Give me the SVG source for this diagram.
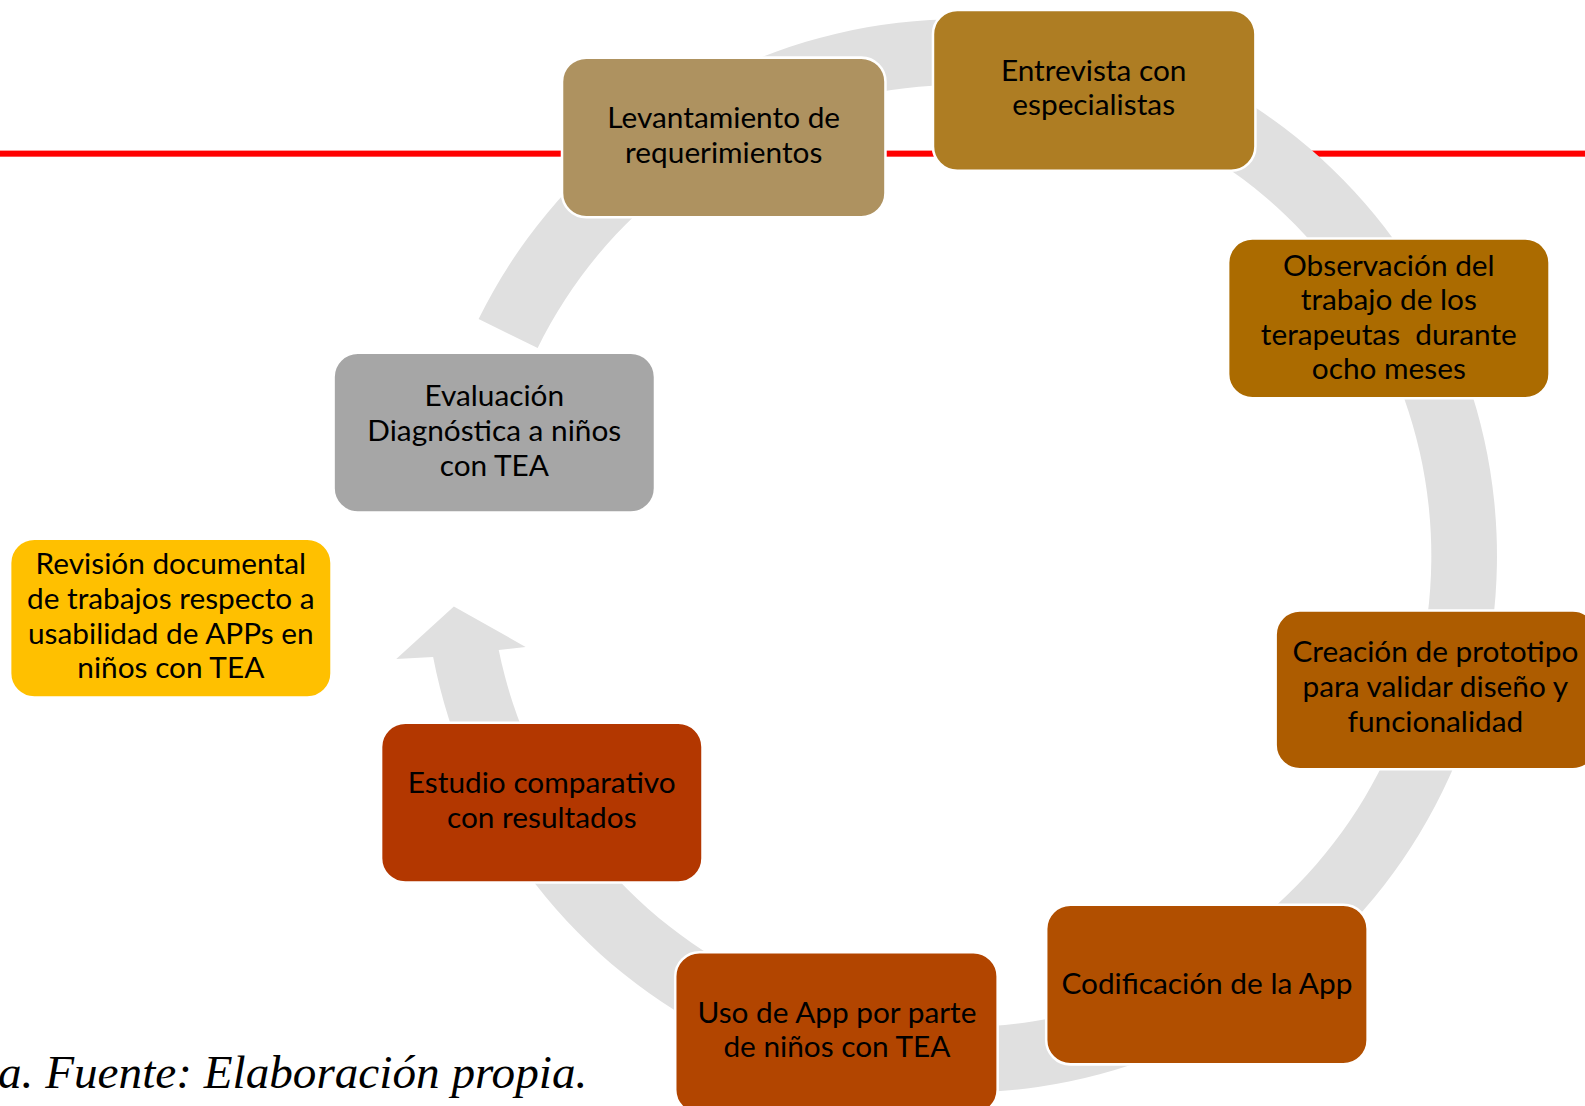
<svg xmlns="http://www.w3.org/2000/svg" width="1585" height="1106" viewBox="0 0 1585 1106">
<style>
.box{stroke:#ffffff;stroke-width:2.5}
.t{font-family:Lato,"Open Sans","Liberation Sans",sans-serif;font-size:29.5px;fill:#000000;text-anchor:middle;white-space:pre}
.cap{font-family:"Liberation Serif","Times New Roman",serif;font-style:italic;font-size:46.7px;fill:#000000}
</style>
<rect width="1585" height="1106" fill="#ffffff"/>
<g transform="scale(1.0108)">
<rect x="0" y="149" width="1585" height="6" fill="#ff0000"/>
<g id="connectors">
<path d="M 473.5,315.6 A 531 531 0 1 1 428.5,650 L 392,652 L 449,600 L 520,640 L 493.4,643 A 466 466 0 1 0 531.9,344.3 Z" fill="#e0e0e0"/>
</g>
<g id="n1"><rect class="box" x="556" y="57" width="320" height="158" rx="24" fill="#ae9260"/>
<text class="t" x="716" y="127">Levantamiento de</text><text class="t" x="716" y="161">requerimientos</text></g>
<g id="n2"><rect class="box" x="923" y="10" width="319" height="159" rx="24" fill="#ae7d23"/>
<text class="t" x="1082" y="80">Entrevista con</text><text class="t" x="1082" y="114">especialistas</text></g>
<g id="n3"><rect class="box" x="1215" y="236" width="318" height="158" rx="24" fill="#ab6b00"/>
<text class="t" x="1374" y="273">Observación del</text><text class="t" x="1374" y="307">trabajo de los</text><text class="t" x="1374" y="341">terapeutas  durante</text><text class="t" x="1374" y="375">ocho meses</text></g>
<g id="n4"><rect class="box" x="1262" y="604" width="318" height="157" rx="24" fill="#ad5c00"/>
<text class="t" x="1420" y="655">Creación de prototipo</text><text class="t" x="1420" y="690">para validar diseño y</text><text class="t" x="1420" y="724">funcionalidad</text></g>
<g id="n5"><rect class="box" x="1035" y="895" width="318" height="158" rx="24" fill="#b14f00"/>
<text class="t" x="1194" y="983">Codificación de la App</text></g>
<g id="n6"><rect class="box" x="668" y="942" width="319" height="160" rx="24" fill="#b24500"/>
<text class="t" x="828" y="1012">Uso de App por parte</text><text class="t" x="828" y="1046">de niños con TEA</text></g>
<g id="n7"><rect class="box" x="377" y="715" width="318" height="158" rx="24" fill="#b33700"/>
<text class="t" x="536" y="785">Estudio comparativo</text><text class="t" x="536" y="819">con resultados</text></g>
<g id="n8"><rect class="box" x="330" y="349" width="318" height="158" rx="24" fill="#a6a6a6"/>
<text class="t" x="489" y="402">Evaluación</text><text class="t" x="489" y="436">Diagnóstica a niños</text><text class="t" x="489" y="471">con TEA</text></g>
<g id="n9"><rect class="box" x="10" y="533" width="318" height="157" rx="24" fill="#ffc000"/>
<text class="t" x="169" y="568">Revisión documental</text><text class="t" x="169" y="602">de trabajos respecto a</text><text class="t" x="169" y="637">usabilidad de APPs en</text><text class="t" x="169" y="671">niños con TEA</text></g>
<text class="cap" x="-2" y="1076">a. Fuente: Elaboración propia.</text>
</g>
</svg>
